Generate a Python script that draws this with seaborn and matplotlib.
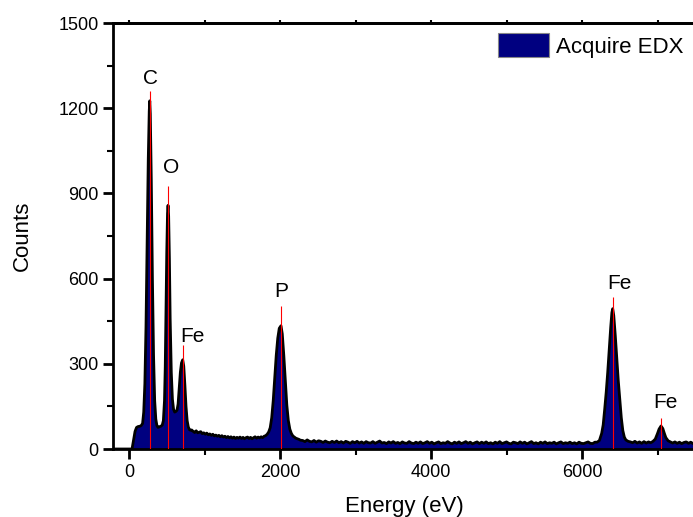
import numpy as np
import pandas as pd
import matplotlib
matplotlib.use('Agg')
import matplotlib.pyplot as plt
from matplotlib.patches import Patch
from matplotlib.ticker import MultipleLocator
import seaborn as sns

# low energy part of the spectrum: C, O, Fe L and P peaks (eV, counts)
low_e = [-200, 40, 60, 80, 100, 120, 140, 160, 180, 195,
         210, 225, 240, 255, 268, 275, 282, 295, 310, 325,
         340, 355, 370, 385, 400, 420, 440, 455, 470, 480,
         490, 500, 510, 517, 525, 535, 545, 560, 575, 590,
         605, 620, 635, 650, 665, 680, 695, 711, 725, 740,
         755, 770, 785, 800, 815, 830,
         850, 870, 890, 910, 930, 950, 970, 990, 1010, 1030,
         1050, 1070, 1090, 1110, 1130, 1150, 1170, 1190, 1210, 1230,
         1250, 1270, 1290, 1310, 1330, 1350, 1370, 1390, 1410, 1430,
         1450, 1470, 1490, 1510, 1530, 1550, 1570, 1590, 1610, 1630,
         1650, 1670, 1690, 1710, 1730, 1750, 1770, 1790, 1810, 1830,
         1850, 1870, 1890, 1910, 1930, 1950, 1970, 1990, 2013, 2030,
         2050, 2070, 2090, 2110, 2130, 2150, 2170, 2190, 2210, 2230,
         2250, 2270]
low_counts = [0, 0, 30, 62, 76, 79, 80, 82, 90, 130,
              230, 430, 720, 1020, 1190, 1226, 1180, 950, 600, 330,
              170, 105, 82, 76, 78, 80, 84, 100, 170, 290,
              480, 690, 830, 858, 820, 670, 460, 270, 175, 140,
              130, 132, 136, 158, 215, 270, 303, 314, 292, 225,
              150, 100, 78, 68, 66, 67,
              62, 58, 64, 57, 59, 61, 54, 57, 52, 56,
              50, 53, 48, 52, 46, 49, 45, 48, 43, 47,
              42, 45, 40, 44, 39, 43, 38, 42, 37, 41,
              38, 42, 37, 41, 36, 40, 42, 37, 41, 36,
              40, 43, 38, 42, 39, 43, 40, 45, 47, 52,
              60, 75, 110, 170, 250, 330, 390, 425, 434, 405,
              330, 240, 155, 100, 70, 55, 46, 42, 38, 36,
              34, 31]

# flat background between P and Fe K (30 eV channels from 2300 eV)
bg_counts = [30, 26, 32, 27, 25, 30, 24, 29, 27, 23,
             28, 24, 22, 27, 23, 28, 22, 26, 21, 27,
             24, 20, 26, 22, 27, 21, 25, 20, 26, 22,
             21, 26, 20, 24, 28, 21, 23, 19, 25, 21,
             26, 20, 23, 19, 25, 21, 20, 26, 21, 19,
             24, 20, 25, 19, 22, 26, 20, 24, 18, 22,
             25, 19, 22, 20, 26, 21, 18, 24, 20, 25,
             19, 22, 26, 20, 24, 18, 22, 25, 19, 24,
             20, 25, 19, 22, 18, 24, 20, 26, 19, 22,
             25, 20, 18, 24, 22, 19, 25, 20, 24, 18,
             22, 26, 19, 22, 18, 24, 20, 25, 19, 22,
             20, 24, 18, 22, 25, 19, 22, 20, 24, 19,
             22, 18, 24, 20, 19, 22, 25, 20, 19, 24]
bg_e = np.arange(2300, 2300 + 30 * len(bg_counts), 30)

# Fe K alpha / K beta region
fe_e = [6200, 6230, 6260, 6280, 6300, 6320, 6340, 6360, 6380, 6395,
        6406, 6420, 6440, 6460, 6480, 6500, 6520, 6540, 6560, 6580,
        6610, 6640, 6670, 6700, 6730, 6760, 6790, 6820, 6850, 6880,
        6910, 6940, 6970, 7000, 7020, 7046, 7070, 7090, 7110, 7140,
        7170, 7200, 7230, 7260, 7290, 7320, 7350, 7380, 7410, 7440,
        7470, 7500]
fe_counts = [24, 30, 55, 85, 140, 200, 270, 350, 430, 480,
             494, 470, 400, 320, 240, 175, 110, 65, 42, 32,
             27, 25, 22, 27, 21, 25, 20, 26, 21, 25,
             22, 27, 35, 55, 70, 81, 72, 55, 40, 29,
             25, 21, 25, 20, 24, 19, 23, 25, 20, 24,
             19, 22]

# peak markers
peak_names = ['C', 'O', 'Fe', 'P', 'Fe', 'Fe']
peak_e = [274, 517, 711, 2013, 6406, 7046]
peak_top = [1259, 925, 365, 502, 534, 110]
label_x = [291, 556, 844, 2022, 6490, 7106]
label_y = [1304, 992, 397, 554, 582, 164]

df = pd.DataFrame({
    'Energy': np.concatenate([low_e, bg_e, fe_e]),
    'Counts': np.concatenate([low_counts, bg_counts, fe_counts]),
})

sns.set_style('ticks')
plt.rcParams['font.family'] = ['Liberation Sans', 'DejaVu Sans']
plt.rcParams.update({'text.color': 'black', 'axes.labelcolor': 'black',
                     'xtick.color': 'black', 'ytick.color': 'black',
                     'axes.edgecolor': 'black'})

fig = plt.figure(figsize=(6.93, 5.17), dpi=100)
ax = fig.add_axes([113 / 693, 68 / 517, 582 / 693, 426 / 517])

ax.fill_between(df['Energy'], 0, df['Counts'], color='#000080', lw=0, zorder=1)
sns.lineplot(data=df, x='Energy', y='Counts', color='black', lw=2,
             ax=ax, legend=False, zorder=3)
ax.vlines(peak_e, 0, peak_top, color='red', lw=0.8, zorder=4)
for name, x, y in zip(peak_names, label_x, label_y):
    ax.text(x, y, name, ha='center', va='center', fontsize=15)

ax.set_xlim(-212, 7496)
ax.set_ylim(0, 1500)
ax.xaxis.set_major_locator(MultipleLocator(2000))
ax.xaxis.set_minor_locator(MultipleLocator(1000))
ax.yaxis.set_major_locator(MultipleLocator(300))
ax.yaxis.set_minor_locator(MultipleLocator(150))

for side in ['left', 'bottom', 'top']:
    ax.spines[side].set_linewidth(2)
ax.spines['right'].set_visible(False)
ax.tick_params(which='major', direction='out', length=7, width=2, labelsize=13)
ax.tick_params(which='minor', direction='out', length=4, width=1.5)

top = ax.secondary_xaxis('top')
top.xaxis.set_major_locator(MultipleLocator(1000))
top.tick_params(direction='out', length=2, width=1.5, labeltop=False)
top.spines['top'].set_linewidth(2)

ax.set_xlabel('Energy (eV)', fontsize=16, labelpad=11)
ax.set_ylabel('Counts', fontsize=16, labelpad=18)

handle = Patch(facecolor='#000080', edgecolor='#888888', lw=0.8)
ax.legend([handle], ['Acquire EDX'], loc='upper right', frameon=False,
          fontsize=16, handlelength=2.3, handleheight=1.3, handletextpad=0.35,
          borderpad=0, borderaxespad=0,
          bbox_to_anchor=(684 / 693, 1 - 33 / 517), bbox_transform=fig.transFigure)

fig.savefig('out.png', dpi=100)
